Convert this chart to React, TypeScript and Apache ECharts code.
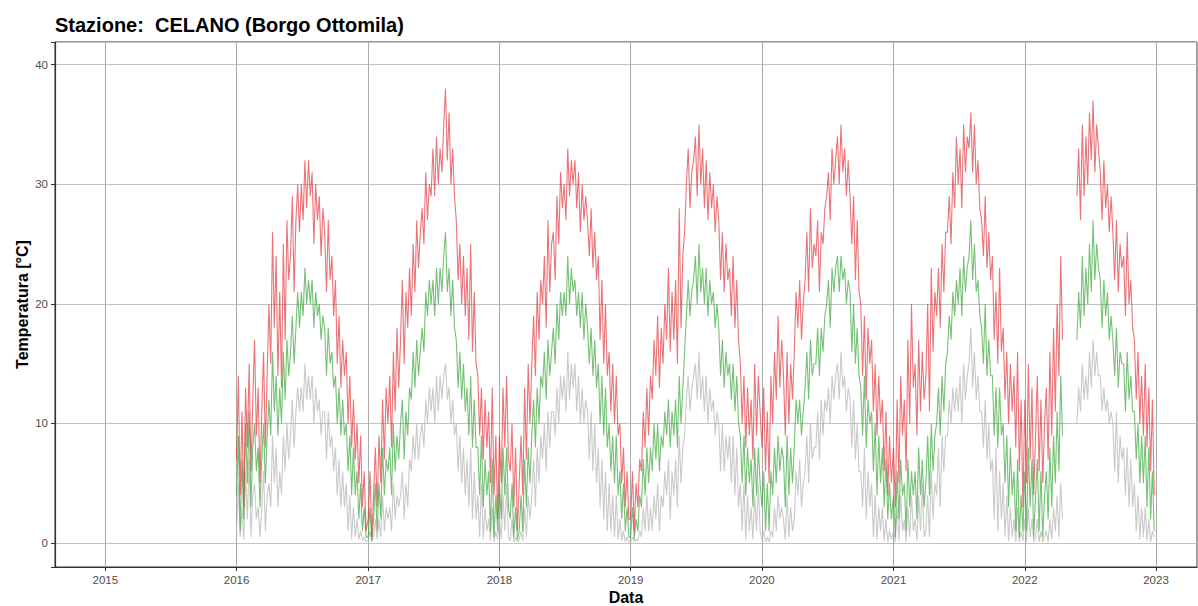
import React, { useEffect, useRef } from "react";
import * as echarts from "echarts";

const TITLE = "Stazione: \u00a0CELANO (Borgo Ottomila)";
const X_NAME = "Data";
const Y_NAME = "Temperatura [°C]";
const YEARS = [2016, 2017, 2018, 2019, 2020, 2021, 2022];
const STEP_DAYS = 5;
const X_TICK_YEARS = [2015, 2016, 2017, 2018, 2019, 2020, 2021, 2022, 2023];
const Y_TICKS = [0, 10, 20, 30, 40];

const tmax2016 = [7, 14, 4, 11, 3, 13, 8, 15, 6, 12, 17, 9, 13, 5, 11, 16, 8, 14, 20, 15, 26, 18, 24, 14, 21, 13, 25, 17, 27, 22, 24, 29, 21, 27, 30, 26, 30, 27, 32, 28, 32, 29, 31, 25, 30, 27, 29, 24, 28, 26, 21, 27, 22, 24, 19, 22, 15, 19, 13, 17, 14, 16, 10, 14, 8, 12, 7, 10, 5, 9, 3, 6, 1];
const tmed2016 = [4, 9, 1, 7, 2, 10, 5, 11, 3, 8, 10, 6, 8, 3, 7, 10, 5, 9, 12, 9, 16, 11, 14, 9, 13, 10, 16, 12, 17, 14, 16, 19, 15, 18, 21, 18, 21, 19, 23, 20, 22, 20, 22, 18, 21, 19, 20, 17, 19, 18, 14, 18, 15, 16, 13, 14, 10, 13, 9, 12, 9, 10, 6, 9, 4, 8, 4, 6, 2, 5, 1, 3, 0.5];
const tmin2016 = [1, 5, 0.5, 3, 0.3, 6, 2, 7, 0.5, 4, 5, 2, 3, 0.5, 3, 6, 1, 4, 5, 3, 9, 5, 8, 3, 6, 4, 9, 6, 10, 7, 9, 12, 8, 11, 13, 11, 13, 11, 15, 12, 14, 12, 14, 10, 13, 11, 12, 9, 11, 11, 7, 11, 8, 9, 6, 8, 4, 7, 3, 6, 3, 5, 1, 4, 0.3, 3, 0.5, 2, 0.3, 1, 0.2, 0.5, 0.1];

const tmax2017 = [2, 6, 0.5, 4, 8, 3, 9, 5, 12, 7, 13, 10, 14, 8, 16, 11, 18, 13, 17, 22, 15, 21, 18, 23, 19, 25, 21, 27, 23, 26, 28, 25, 31, 27, 30, 29, 33, 29, 34, 30, 33, 31, 35, 38, 32, 36, 30, 33, 29, 27, 22, 25, 20, 24, 19, 23, 17, 25, 16, 21, 15, 14, 9, 13, 7, 12, 8, 11, 5, 13, 4, 9, 2];
const tmed2017 = [0.5, 3, 0.2, 2, 5, 1, 5, 2, 8, 4, 7, 6, 8, 4, 10, 6, 9, 7, 10, 12, 7, 11, 9, 13, 12, 16, 13, 17, 14, 16, 18, 16, 21, 19, 22, 20, 22, 19, 23, 20, 23, 21, 24, 26, 21, 23, 19, 22, 18, 17, 13, 16, 12, 15, 11, 13, 9, 14, 8, 12, 8, 8, 4, 9, 3, 7, 4, 6, 1, 7, 0.5, 4, 1];
const tmin2017 = [0.2, 1, 0.1, 0.5, 2, 0.3, 2, 0.5, 4, 1, 3, 2, 3, 1, 5, 2, 4, 3, 4, 6, 2, 5, 3, 7, 6, 9, 7, 10, 7, 9, 10, 8, 12, 10, 13, 11, 13, 10, 14, 11, 14, 12, 14, 15, 12, 13, 10, 12, 9, 10, 6, 9, 5, 8, 4, 7, 3, 8, 2, 6, 2, 4, 0.5, 5, 0.3, 3, 1, 2, 0.2, 3, 0.1, 1, 0.3];

const tmax2018 = [9, 5, 13, 8, 14, 7, 6, 10, 3, 8, 1, 5, 9, 4, 13, 7, 15, 10, 15, 19, 14, 21, 17, 22, 20, 24, 18, 27, 21, 25, 26, 22, 29, 25, 31, 28, 30, 27, 33, 29, 32, 30, 32, 28, 31, 26, 30, 27, 29, 27, 24, 28, 23, 26, 22, 24, 17, 22, 15, 20, 14, 16, 11, 15, 10, 14, 9, 10, 5, 8, 3, 6, 2];
const tmed2018 = [5, 2, 8, 4, 8, 3, 2, 5, 0.5, 3, 0.3, 1, 4, 1, 7, 3, 8, 5, 9, 12, 8, 13, 10, 14, 13, 16, 12, 17, 14, 16, 18, 15, 20, 17, 21, 19, 21, 19, 24, 20, 23, 21, 22, 19, 21, 18, 21, 17, 20, 18, 15, 18, 14, 17, 13, 15, 10, 14, 9, 13, 8, 10, 6, 9, 5, 9, 4, 6, 2, 5, 1, 3, 0.5];
const tmin2018 = [2, 0.3, 4, 1, 5, 0.5, 0.2, 2, 0.1, 0.5, 0.1, 0.3, 1, 0.2, 3, 0.5, 4, 2, 4, 7, 3, 8, 5, 9, 7, 10, 6, 11, 8, 11, 11, 9, 13, 10, 14, 12, 14, 11, 16, 12, 15, 13, 15, 11, 14, 10, 13, 10, 12, 11, 7, 11, 6, 10, 5, 8, 3, 7, 2, 6, 1, 5, 1, 4, 0.5, 4, 0.3, 2, 0.2, 1, 0.1, 0.5, 0.1];

const tmax2019 = [2, 6, 1, 5, 3, 7, 6, 11, 8, 13, 9, 14, 12, 17, 14, 19, 13, 18, 15, 20, 17, 23, 16, 21, 17, 22, 15, 28, 18, 24, 26, 30, 33, 28, 31, 32, 34, 29, 35, 30, 33, 28, 32, 27, 31, 28, 30, 26, 29, 27, 22, 26, 21, 25, 22, 23, 19, 24, 18, 22, 17, 15, 10, 14, 8, 13, 9, 12, 7, 15, 9, 14, 11];
const tmed2019 = [0.5, 3, 0.3, 2, 1, 4, 3, 7, 4, 8, 5, 8, 6, 10, 7, 10, 6, 9, 8, 11, 9, 12, 8, 11, 9, 12, 8, 14, 10, 13, 16, 19, 22, 19, 21, 22, 24, 20, 25, 21, 23, 20, 23, 19, 22, 20, 21, 18, 20, 18, 14, 17, 13, 16, 14, 15, 12, 15, 11, 14, 10, 9, 5, 9, 4, 8, 5, 7, 3, 8, 4, 8, 5];
const tmin2019 = [0.1, 0.5, 0.1, 0.3, 0.2, 1, 0.5, 3, 1, 4, 1, 3, 1, 4, 2, 5, 1, 4, 3, 6, 4, 7, 2, 6, 4, 7, 3, 9, 5, 8, 9, 12, 14, 11, 13, 14, 15, 12, 16, 12, 14, 11, 14, 10, 13, 11, 12, 9, 11, 10, 6, 10, 6, 9, 7, 9, 5, 9, 4, 8, 3, 5, 1, 5, 0.3, 4, 1, 3, 0.3, 4, 1, 5, 1];

const tmax2020 = [8, 13, 6, 11, 5, 14, 10, 16, 12, 19, 13, 17, 14, 9, 16, 10, 15, 12, 16, 21, 18, 22, 17, 20, 22, 26, 21, 28, 23, 25, 24, 27, 21, 26, 25, 28, 29, 31, 27, 33, 30, 32, 34, 30, 35, 31, 33, 29, 32, 29, 25, 29, 22, 27, 21, 20, 14, 19, 12, 18, 15, 17, 11, 15, 9, 14, 10, 12, 6, 11, 4, 9, 5];
const tmed2020 = [3, 6, 1, 5, 1, 6, 4, 8, 5, 9, 6, 8, 7, 3, 9, 4, 8, 5, 8, 12, 10, 12, 9, 11, 13, 16, 12, 17, 14, 15, 15, 18, 14, 18, 16, 19, 20, 22, 18, 23, 21, 23, 24, 21, 24, 22, 23, 20, 22, 21, 16, 20, 15, 18, 14, 13, 9, 14, 8, 12, 10, 11, 6, 10, 4, 9, 5, 8, 3, 7, 2, 5, 2];
const tmin2020 = [0.3, 1, 0.1, 0.5, 0.1, 1, 0.5, 3, 1, 4, 2, 3, 2, 0.3, 4, 0.5, 3, 1, 2, 6, 4, 7, 3, 5, 6, 9, 5, 10, 7, 8, 8, 11, 7, 12, 9, 12, 11, 13, 10, 14, 12, 14, 15, 12, 16, 13, 14, 11, 13, 12, 8, 12, 7, 10, 6, 6, 3, 8, 2, 6, 3, 5, 0.5, 4, 0.3, 3, 1, 3, 0.2, 2, 0.1, 1, 0.3];

const tmax2021 = [8, 3, 12, 5, 14, 9, 12, 6, 17, 10, 20, 13, 15, 9, 17, 11, 16, 12, 14, 20, 11, 23, 16, 21, 19, 23, 18, 25, 21, 26, 26, 29, 25, 31, 28, 34, 30, 33, 28, 35, 31, 34, 33, 36, 31, 35, 30, 32, 28, 27, 24, 29, 23, 26, 22, 24, 17, 21, 15, 23, 16, 18, 12, 16, 10, 15, 11, 14, 8, 16, 6, 12, 3];
const tmed2021 = [4, 0.5, 6, 2, 7, 4, 5, 1, 7, 3, 6, 4, 6, 2, 8, 4, 7, 3, 5, 9, 4, 10, 6, 9, 10, 13, 9, 14, 11, 15, 16, 19, 17, 21, 19, 22, 20, 23, 19, 24, 21, 23, 24, 27, 22, 25, 21, 22, 19, 18, 15, 20, 14, 17, 14, 14, 9, 13, 8, 13, 9, 10, 5, 9, 3, 8, 4, 6, 1, 7, 0.5, 4, 1];
const tmin2021 = [1, 0.1, 3, 0.2, 4, 1, 2, 0.1, 3, 0.5, 4, 1, 2, 0.2, 4, 1, 5, 0.5, 1, 4, 0.5, 6, 2, 5, 4, 8, 3, 9, 6, 9, 9, 12, 10, 13, 11, 13, 11, 14, 10, 15, 12, 14, 15, 18, 13, 16, 12, 14, 11, 11, 8, 12, 7, 10, 6, 7, 2, 8, 1, 6, 2, 5, 0.5, 4, 0.2, 3, 0.5, 2, 0.1, 3, 0.1, 1, 0.2];

const tmax2022 = [12, 5, 15, 7, 13, 4, 9, 14, 6, 12, 5, 10, 13, 7, 16, 9, 18, 11, 20, 14, 24, 17, null, null, null, null, null, null, null, 29, 33, 27, 35, 29, 34, 30, 36, 32, 37, 31, 35, 33, 31, 27, 32, 28, 30, 26, 29, 26, 22, 27, 21, 25, 23, 24, 19, 26, 20, 22, 18, 17, 12, 16, 10, 14, 9, 15, 8, 13, 6, 12, 4];
const tmed2022 = [6, 1, 8, 3, 7, 0.5, 4, 7, 1, 6, 0.5, 4, 6, 2, 8, 3, 9, 5, 11, 6, 14, 9, null, null, null, null, null, null, null, 17, 21, 18, 24, 19, 23, 20, 25, 21, 27, 22, 25, 23, 22, 18, 22, 19, 21, 17, 19, 17, 14, 18, 13, 16, 15, 15, 11, 16, 12, 14, 11, 11, 7, 10, 5, 9, 5, 9, 3, 8, 2, 6, 1];
const tmin2022 = [2, 0.1, 3, 0.5, 2, 0.1, 0.5, 2, 0.1, 1, 0.1, 0.5, 1, 0.1, 2, 0.3, 3, 1, 4, 0.5, 5, 2, null, null, null, null, null, null, null, 10, 13, 11, 15, 12, 14, 12, 16, 13, 17, 14, 16, 14, 14, 11, 13, 11, 12, 10, 11, 10, 6, 11, 5, 9, 7, 8, 4, 8, 3, 7, 3, 5, 1, 4, 0.3, 3, 0.5, 3, 0.2, 2, 0.1, 1, 0.5];

const TMAX = [tmax2016, tmax2017, tmax2018, tmax2019, tmax2020, tmax2021, tmax2022];
const TMED = [tmed2016, tmed2017, tmed2018, tmed2019, tmed2020, tmed2021, tmed2022];
const TMIN = [tmin2016, tmin2017, tmin2018, tmin2019, tmin2020, tmin2021, tmin2022];

const DAY = 86400000;

function build(arrs: (number | null)[][]) {
  const out: [number, number | string][] = [];
  arrs.forEach((arr, k) => {
    const base = Date.UTC(YEARS[k], 0, 1);
    arr.forEach((v, i) => {
      out.push([base + i * STEP_DAYS * DAY, v === null ? "-" : v]);
    });
  });
  return out;
}

export default function App() {
  const ref = useRef<HTMLDivElement>(null);
  useEffect(() => {
    if (!ref.current) return;
    const chart = echarts.init(ref.current, null, { renderer: "svg" });
    const font = "'Liberation Sans', Arial, Helvetica, sans-serif";
    const lineSeries = (name: string, arrs: (number | null)[][], color: string, opacity: number) => ({
      name,
      type: "line",
      data: build(arrs),
      showSymbol: false,
      symbol: "none",
      connectNulls: false,
      lineStyle: { color, width: 1.1, opacity },
      itemStyle: { color },
      silent: true,
    });
    chart.setOption({
      animation: false,
      useUTC: true,
      textStyle: { fontFamily: font },
      title: {
        text: TITLE,
        left: 50,
        top: 10,
        textStyle: { fontSize: 20, fontWeight: "bold", color: "#000", fontFamily: font },
      },
      grid: {
        left: 55,
        right: 1,
        top: 42,
        bottom: 39,
        show: true,
        borderColor: "#333",
        borderWidth: 1,
        containLabel: false,
        outerBoundsMode: "none",
      },
      xAxis: {
        type: "time",
        min: Date.UTC(2014, 7, 14),
        max: Date.UTC(2023, 3, 25),
        splitNumber: 9,
        minInterval: 365 * DAY,
        name: X_NAME,
        nameLocation: "middle",
        nameGap: 22,
        nameMoveOverlap: false,
        nameTextStyle: { fontSize: 16, fontWeight: "bold", color: "#000", fontFamily: font },
        axisLine: { show: true, onZero: false, lineStyle: { color: "#333", width: 1.2 } },
        axisTick: { show: true, length: 4, lineStyle: { color: "#333" } },
        axisLabel: {
          color: "#4d4d4d",
          fontSize: 11.5,
          margin: 7,
          fontFamily: font,
          formatter: (v: number) => {
            const d = new Date(v);
            const y = d.getUTCFullYear();
            return d.getUTCMonth() === 0 && d.getUTCDate() === 1 && X_TICK_YEARS.includes(y) ? String(y) : "";
          },
        },
        splitLine: { show: true, lineStyle: { color: "#aaaaaa", width: 1 } },
      },
      yAxis: {
        type: "value",
        min: -2,
        max: 41.9,
        name: Y_NAME,
        nameLocation: "middle",
        nameGap: 25,
        nameMoveOverlap: false,
        nameRotate: 90,
        nameTextStyle: { fontSize: 16, fontWeight: "bold", color: "#000", fontFamily: font },
        axisLine: { show: true, onZero: false, lineStyle: { color: "#333", width: 1.2 } },
        axisTick: { show: true, length: 4, lineStyle: { color: "#333" } },
        axisLabel: {
          color: "#4d4d4d",
          fontSize: 11.5,
          margin: 7,
          fontFamily: font,
          formatter: (v: number) => (Y_TICKS.includes(v) ? String(v) : ""),
        },
        splitLine: { show: true, lineStyle: { color: "#c4c4c4", width: 1 } },
      },
      series: [
        lineSeries("Tmin", TMIN, "#b3b3b3", 0.7),
        lineSeries("Tmed", TMED, "#2ca02c", 0.65),
        lineSeries("Tmax", TMAX, "#e0282e", 0.65),
      ],
    });
    return () => chart.dispose();
  }, []);
  return (
    <div
      ref={ref}
      style={{ position: "absolute", left: 0, top: 0, width: 1198, height: 606, background: "#fff" }}
    />
  );
}
